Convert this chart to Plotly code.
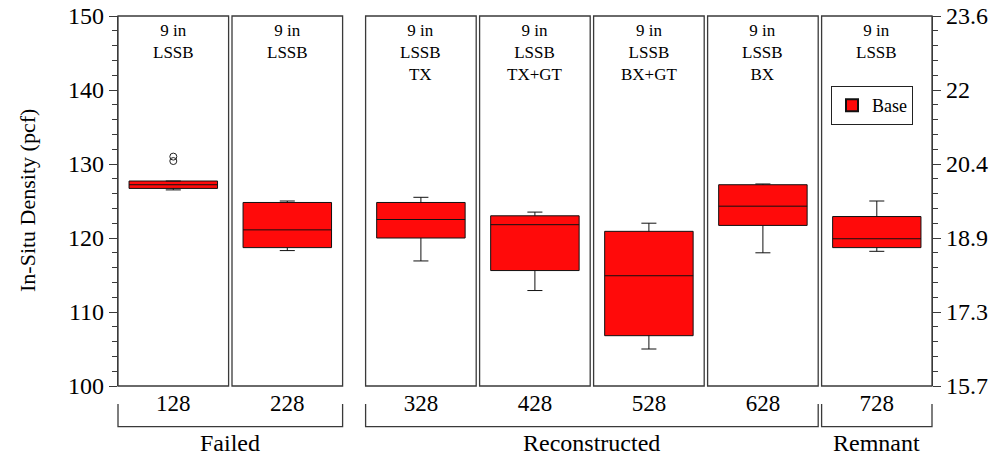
import plotly.graph_objects as go

# Section numbers along the bottom and the header text of each panel
sections = ["128", "228", "328", "428", "528", "628", "728"]
panel_headers = [
    "9 in<br>LSSB",
    "9 in<br>LSSB",
    "9 in<br>LSSB<br>TX",
    "9 in<br>LSSB<br>TX+GT",
    "9 in<br>LSSB<br>BX+GT",
    "9 in<br>LSSB<br>BX",
    "9 in<br>LSSB",
]

# Box statistics of in-situ density (pcf) for the base layer
lower_whisker = [126.5, 118.3, 116.9, 112.9, 105.0, 118.0, 118.2]
q1 = [126.7, 118.7, 120.0, 115.6, 106.8, 121.7, 118.7]
median = [127.2, 121.1, 122.5, 121.8, 114.9, 124.3, 119.9]
q3 = [127.7, 124.8, 124.8, 123.0, 120.9, 127.2, 122.9]
upper_whisker = [127.7, 125.0, 125.5, 123.5, 122.0, 127.3, 125.0]

# Outliers (section, value)
outlier_sections = ["128", "128"]
outlier_values = [130.4, 131.0]

# Section groups: label, first panel index, last panel index
groups = [("Failed", 0, 1), ("Reconstructed", 2, 5), ("Remnant", 6, 6)]

# Left axis ticks (pcf) and their kN/m^3 equivalents on the right
pcf_ticks = [100, 110, 120, 130, 140, 150]
kn_labels = ["15.7", "17.3", "18.9", "20.4", "22", "23.6"]
minor_ticks = [v for v in range(100, 151, 2) if v % 10 != 0]

FONT = "Liberation Serif, Times New Roman, serif"
RED = "#ff0a0a"
LINE = "#3a3a3a"

# Panel layout in px across an 814 px plot width (370 px tall)
plot_w = 814.0
plot_h = 370.0
panel_w = 110.6
small_gap = 3.4
big_gap = 23.0
domains = []
pos = 0.0
for i in range(len(sections)):
    domains.append([pos / plot_w, min((pos + panel_w) / plot_w, 1.0)])
    pos += panel_w
    pos += big_gap if i == 1 else small_gap

fig = go.Figure()

for i, sec in enumerate(sections):
    xa = "x" if i == 0 else f"x{i + 1}"
    fig.add_trace(go.Box(
        x=[sec],
        q1=[q1[i]], median=[median[i]], q3=[q3[i]],
        lowerfence=[lower_whisker[i]], upperfence=[upper_whisker[i]],
        width=0.8, whiskerwidth=0.17,
        fillcolor=RED, line=dict(color="#111111", width=1),
        name="Base", legendgroup="base", showlegend=(i == 0),
        boxpoints=False, xaxis=xa, yaxis="y", hoverinfo="skip",
    ))

fig.add_trace(go.Scatter(
    x=outlier_sections, y=outlier_values, mode="markers",
    marker=dict(symbol="circle-open", size=7, color="#222222",
                line=dict(width=1, color="#222222")),
    showlegend=False, xaxis="x", yaxis="y", hoverinfo="skip",
))

# Invisible trace carrying the right-hand unit axis
fig.add_trace(go.Scatter(x=[sections[-1]], y=[None], xaxis="x7", yaxis="y2",
                         showlegend=False, hoverinfo="skip"))

layout = dict(
    width=992, height=458,
    margin=dict(l=118, r=60, t=16, b=72, autoexpand=False),
    paper_bgcolor="white", plot_bgcolor="white",
    font=dict(family=FONT, color="black"),
    showlegend=True,
    legend=dict(
        x=(831 - 118) / plot_w, y=1 - (86 - 16) / plot_h,
        xanchor="left", yanchor="top",
        bordercolor="#222222", borderwidth=1, bgcolor="white",
        font=dict(family=FONT, size=18),
        itemsizing="constant", entrywidth=52, entrywidthmode="pixels",
    ),
    yaxis=dict(
        range=[100, 150], anchor="x", automargin=False,
        showline=True, linecolor=LINE, linewidth=1.3,
        showgrid=False, zeroline=False,
        tickmode="array", tickvals=pcf_ticks,
        ticks="outside", ticklen=8, tickcolor=LINE, tickwidth=1.2,
        tickfont=dict(family=FONT, size=24),
        minor=dict(tickmode="array", tickvals=minor_ticks, ticks="outside",
                   ticklen=5, tickcolor=LINE, tickwidth=1.2, showgrid=False),
    ),
    yaxis2=dict(
        range=[100, 150], overlaying="y", side="right", anchor="x7", automargin=False,
        showline=True, linecolor=LINE, linewidth=1.3,
        showgrid=False, zeroline=False,
        tickmode="array", tickvals=pcf_ticks, ticktext=kn_labels,
        ticks="outside", ticklen=8, tickcolor=LINE, tickwidth=1.2,
        tickfont=dict(family=FONT, size=24),
        minor=dict(tickmode="array", tickvals=minor_ticks, ticks="outside",
                   ticklen=5, tickcolor=LINE, tickwidth=1.2, showgrid=False),
    ),
)

for i, sec in enumerate(sections):
    key = "xaxis" if i == 0 else f"xaxis{i + 1}"
    layout[key] = dict(
        domain=domains[i], anchor="y", type="category", automargin=False,
        range=[-0.5, 0.5], showline=False, showgrid=False, zeroline=False,
        ticks="", tickfont=dict(family=FONT, size=23),
        ticklabelstandoff=1, fixedrange=True,
    )

fig.update_layout(**layout)

shapes = []
annotations = []
for i, sec in enumerate(sections):
    xr = "x" if i == 0 else f"x{i + 1}"
    # Panel frame
    shapes.append(dict(type="rect", xref=f"{xr} domain", yref="y domain",
                       x0=0, x1=1, y0=0, y1=1,
                       line=dict(color=LINE, width=1.3), layer="above"))
    # Panel header
    annotations.append(dict(text=panel_headers[i], xref=f"{xr} domain", yref="y domain",
                            x=0.5, y=0.993, xanchor="center", yanchor="top",
                            showarrow=False, font=dict(family=FONT, size=17)))

# Vertical axis title
annotations.append(dict(text="In-Situ Density (pcf)", xref="paper", yref="paper",
                        x=(27 - 118) / plot_w, y=0.5, textangle=-90,
                        xanchor="center", yanchor="middle", showarrow=False,
                        font=dict(family=FONT, size=22)))

# Group brackets below the section labels
y_top = -(404 - 386) / plot_h
y_bot = -(426.7 - 386) / plot_h
for label, a, b in groups:
    x0 = domains[a][0]
    x1 = domains[b][1]
    shapes.append(dict(type="path", xref="paper", yref="paper",
                       path=f"M {x0},{y_top} L {x0},{y_bot} L {x1},{y_bot} L {x1},{y_top}",
                       line=dict(color=LINE, width=1.3)))
    annotations.append(dict(text=label, xref="paper", yref="paper",
                            x=(x0 + x1) / 2, y=-(443 - 386) / plot_h,
                            xanchor="center", yanchor="middle", showarrow=False,
                            borderpad=0, font=dict(family=FONT, size=24)))

fig.update_layout(shapes=shapes, annotations=annotations)

fig.write_html("out.html")
